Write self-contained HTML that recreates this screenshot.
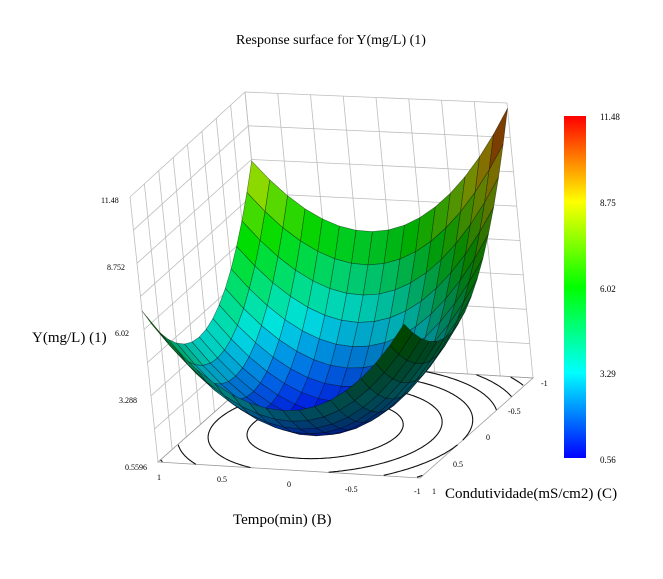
<!DOCTYPE html>
<html><head><meta charset="utf-8"><style>
body{margin:0;background:#fff;}
svg text{font-family:"Liberation Serif",serif;}
</style></head><body>
<svg id="s" width="663" height="574" viewBox="0 0 663 574" xmlns="http://www.w3.org/2000/svg">
<defs><linearGradient id="cb" x1="0" y1="1" x2="0" y2="0">
<stop offset="0" stop-color="#0000ff"/><stop offset="0.25" stop-color="#00ffff"/>
<stop offset="0.5" stop-color="#00ff00"/><stop offset="0.75" stop-color="#ffff00"/>
<stop offset="1" stop-color="#ff0000"/></linearGradient></defs>
<rect width="663" height="574" fill="#fff"/>
<g id="walls"></g><g id="floor"></g><g id="surf"></g>
<text x="331" y="44" font-size="14" text-anchor="middle">Response surface for Y(mg/L) (1)</text>
<text x="32" y="342" font-size="15">Y(mg/L) (1)</text>
<text x="233" y="524" font-size="15">Tempo(min) (B)</text>
<text x="445" y="498" font-size="15">Condutividade(mS/cm2) (C)</text>
<g font-size="8" font-family="Liberation Sans,sans-serif">
<text x="101" y="203">11.48</text><text x="107" y="270">8.752</text>
<text x="115" y="336">6.02</text><text x="119" y="403">3.288</text>
<text x="125" y="470">0.5596</text>
<text x="157" y="480">1</text><text x="217" y="482">0.5</text><text x="287" y="487">0</text>
<text x="345" y="492">-0.5</text><text x="414" y="494">-1</text>
<text x="432" y="494">1</text><text x="453" y="467">0.5</text><text x="486" y="440">0</text>
<text x="508" y="414">-0.5</text><text x="541" y="386">-1</text>
</g>
<rect x="564" y="116" width="22" height="342" fill="url(#cb)"/>
<g font-size="9" font-family="Liberation Sans,sans-serif">
<text x="600" y="120">11.48</text><text x="600" y="206">8.75</text><text x="600" y="292">6.02</text>
<text x="600" y="377">3.29</text><text x="600" y="463">0.56</text></g>
</svg>
<script>
var NS="http://www.w3.org/2000/svg";
var F=[[158,462],[420,478],[533,378],[271,362]],T=[[130,197],[392,208],[507,103],[245,92]];
var ZMIN=0.5596,ZMAX=11.48;
function L(a,b,t){return [a[0]+(b[0]-a[0])*t,a[1]+(b[1]-a[1])*t];}
function quad(Q,u,v){var a=L(Q[0],Q[1],u),b=L(Q[3],Q[2],u);return L(a,b,v);}
function P(B,C,z){var u=(1-B)/2,v=(1-C)/2,w=(z-ZMIN)/(ZMAX-ZMIN);return L(quad(F,u,v),quad(T,u,v),w);}
var c0=0.78,c1=-0.645,c2=-1.595,c3=3.8,c4=3.8,c5=0.645;
function Z(B,C){return c0+c1*B+c2*C+c3*B*B+c4*C*C+c5*B*C;}
function el(t,at,p){var e=document.createElementNS(NS,t);for(var k in at)e.setAttribute(k,at[k]);(p||document.getElementById('s')).appendChild(e);return e;}
function pts(a){return a.map(function(p){return p[0].toFixed(1)+","+p[1].toFixed(1)}).join(" ");}
var W=document.getElementById('walls');
var g="#bdbdbd",N=8;
for(var i=0;i<=N;i++){var t=i/N;var z=ZMIN+(ZMAX-ZMIN)*t;
 el('polyline',{points:pts([P(1,1,z),P(1,-1,z),P(-1,-1,z)]),fill:'none',stroke:g,'stroke-width':0.8},W);
 var c=1-2*t;
 el('line',{x1:P(1,c,ZMIN)[0],y1:P(1,c,ZMIN)[1],x2:P(1,c,ZMAX)[0],y2:P(1,c,ZMAX)[1],stroke:g,'stroke-width':0.8},W);
 el('line',{x1:P(c,-1,ZMIN)[0],y1:P(c,-1,ZMIN)[1],x2:P(c,-1,ZMAX)[0],y2:P(c,-1,ZMAX)[1],stroke:g,'stroke-width':0.8},W);
}
var Fl=document.getElementById('floor');
el('polygon',{points:pts([P(1,1,ZMIN),P(-1,1,ZMIN),P(-1,-1,ZMIN),P(1,-1,ZMIN)]),fill:'none',stroke:'#999','stroke-width':0.8},Fl);
var det=4*c3*c4-c5*c5;var Bm=(-c1*2*c4+c5*c2)/det,Cm=(-c2*2*c3+c5*c1)/det,zm=Z(Bm,Cm);
[1.8,3.3,4.9,6.5,8.1,9.8].forEach(function(lv){
 var d="",pen=false;
 for(var k=0;k<=360;k++){var th=k*Math.PI/180,dx=Math.cos(th),dy=Math.sin(th);
  var q=c3*dx*dx+c4*dy*dy+c5*dx*dy;var r=Math.sqrt((lv-zm)/q);var B=Bm+r*dx,C=Cm+r*dy;
  if(Math.abs(B)<=1&&Math.abs(C)<=1){var p=P(B,C,ZMIN);d+=(pen?"L":"M")+p[0].toFixed(1)+" "+p[1].toFixed(1);pen=true;}else pen=false;}
 el('path',{d:d,fill:'none',stroke:'#111','stroke-width':1.1},Fl);
});
function jet(t){t=Math.max(0,Math.min(1,t));var s=[[0,0,255],[0,255,255],[0,255,0],[255,255,0],[255,0,0]];var x=t*4,i=Math.min(3,Math.floor(x)),f=x-i;return s[i].map(function(v,j){return v+(s[i+1][j]-v)*f;});}
var S=document.getElementById('surf'),M=16,qs=[];
for(var i=0;i<M;i++)for(var j=0;j<M;j++){
 var B0=1-2*i/M,B1=1-2*(i+1)/M,C0=1-2*j/M,C1=1-2*(j+1)/M;
 var Bc=(B0+B1)/2,Cc=(C0+C1)/2,zc=Z(Bc,Cc);
 var u=(1-Bc)/2,v=(1-Cc)/2;
 var dB=c1+2*c3*Bc+c5*Cc,dC=c2+2*c4*Cc+c5*Bc;var sc=2/(ZMAX-ZMIN);
 var n=[-dB*sc,-dC*sc,1],nl=Math.hypot(n[0],n[1],n[2]);
 var Lv=[-0.45,0.45,0.77];var dot=(n[0]*Lv[0]+n[1]*Lv[1]+n[2]*Lv[2])/nl;
 var sh=0.3+0.7*Math.max(0,dot);
 var col=jet((zc-ZMIN)/(ZMAX-ZMIN)).map(function(x){return Math.round(x*sh*0.9)});
 qs.push({k:v-u,p:[P(B0,C0,Z(B0,C0)),P(B1,C0,Z(B1,C0)),P(B1,C1,Z(B1,C1)),P(B0,C1,Z(B0,C1))],c:"rgb("+col.join(",")+")"});
}
qs.sort(function(a,b){return b.k-a.k;});
qs.forEach(function(q){el('polygon',{points:pts(q.p),fill:q.c,stroke:'rgba(0,0,0,0.5)','stroke-width':0.6,'stroke-linejoin':'round'},S);});
</script>
</body></html>
